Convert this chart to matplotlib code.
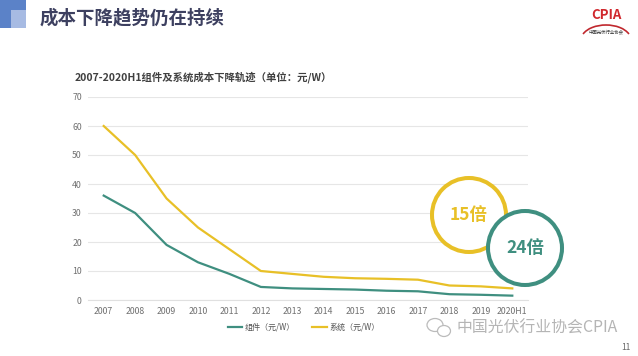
import matplotlib
matplotlib.use("Agg")
import matplotlib.pyplot as plt
from matplotlib.patches import Rectangle, Ellipse, Arc

plt.rcParams['font.family'] = ['Noto Sans CJK SC', 'DejaVu Sans']

years = ["2007", "2008", "2009", "2010", "2011", "2012", "2013", "2014",
         "2015", "2016", "2017", "2018", "2019", "2020H1"]
module_cost = [36, 30, 19, 13, 9, 4.5, 4.0, 3.8, 3.6, 3.2, 3.0, 2.0, 1.8, 1.5]
system_cost = [60, 50, 35, 25, 17.5, 10, 9, 8, 7.5, 7.3, 7.0, 5.0, 4.7, 4.0]
yticks = [0, 10, 20, 30, 40, 50, 60, 70]
series_names = ["组件（元/W）", "系统（元/W）"]
ratio_labels = ["15倍", "24倍"]

W, H = 638, 356
GREEN = "#3f8f80"
GOLD = "#e8c027"

fig = plt.figure(figsize=(W / 100, H / 100), dpi=100)
fig.patch.set_facecolor("white")

def fx(x):
    return x / W

def fy(y):
    return 1 - y / H

# decorative squares
fig.add_artist(Rectangle((fx(0), fy(28)), fx(26), 28 / H, transform=fig.transFigure,
                         facecolor="#5b82c8", edgecolor="none"))
fig.add_artist(Rectangle((fx(11), fy(28)), fx(15), 18 / H, transform=fig.transFigure,
                         facecolor="#a7bbe3", edgecolor="none"))

# page title
fig.text(fx(40), fy(18), "成本下降趋势仍在持续", fontsize=13.3, fontweight="bold",
         color="#3d4060", va="center", ha="left")

# logo
fig.text(fx(606), fy(15), "CPIA", fontsize=9.5, fontweight="bold", color="#d0282e",
         ha="center", va="center")
fig.add_artist(Arc((fx(606), fy(40)), 50 / W, 30 / H, theta1=25, theta2=155,
                   transform=fig.transFigure, color="#c0282e", lw=1.2))
fig.text(fx(606), fy(32), "中国光伏行业协会", fontsize=3.2, color="#333333",
         ha="center", va="center")

# chart axes
ax = fig.add_axes([fx(88), fy(300), 440 / W, 203 / H])
x = list(range(len(years)))
ax.plot(x, module_cost, color=GREEN, lw=1.6, label=series_names[0])
ax.plot(x, system_cost, color=GOLD, lw=1.6, label=series_names[1])
ax.set_xlim(-0.5, len(years) - 0.5)
ax.set_ylim(0, 70)
ax.set_yticks(yticks)
ax.set_xticks(x)
ax.set_xticklabels(years)
ax.tick_params(axis="both", length=0, labelsize=6.3, colors="#707070")
ax.tick_params(axis="y", pad=4.5)
ax.tick_params(axis="x", pad=5)
ax.grid(axis="y", color="#e6e6e6", lw=0.8)
ax.set_axisbelow(True)
for s in ["top", "right", "left"]:
    ax.spines[s].set_visible(False)
ax.spines["bottom"].set_color("#e0e0e0")
ax.spines["bottom"].set_linewidth(0.8)

leg = ax.legend(loc="upper center", bbox_to_anchor=(0.49, -0.075), ncol=2, frameon=False,
                fontsize=5.8, handlelength=1.8, columnspacing=2.2, handletextpad=0.3)
for t in leg.get_texts():
    t.set_color("#555555")

# chart title
fig.text(fx(75), fy(77), "2007-2020H1组件及系统成本下降轨迹（单位：元/W）", fontsize=7.5,
         fontweight="bold", color="#404040", ha="left", va="center")

# circles
def circle(cx, cy, r, color, label, z):
    fig.add_artist(Ellipse((fx(cx), fy(cy)), 2 * r / W, 2 * r / H, transform=fig.transFigure,
                           facecolor="white", edgecolor=color, lw=2.9, zorder=z))
    fig.text(fx(cx), fy(cy), label, fontsize=12.5, fontweight="bold", color=color,
             ha="center", va="center", zorder=z + 0.5)

circle(469, 215, 37, GOLD, ratio_labels[0], 10)
circle(525, 248, 37, GREEN, ratio_labels[1], 12)

# watermark
fig.add_artist(Ellipse((fx(435), fy(325)), 16 / W, 13 / H, transform=fig.transFigure,
                       facecolor="none", edgecolor="#bbbbbb", lw=0.9))
fig.add_artist(Ellipse((fx(444), fy(331)), 13 / W, 11 / H, transform=fig.transFigure,
                       facecolor="white", edgecolor="#bbbbbb", lw=0.9))
fig.text(fx(457), fy(328), "中国光伏行业协会CPIA", fontsize=11.4, color="#b5b5b5",
         ha="left", va="center")

fig.text(fx(630), fy(347), "11", fontsize=6, color="#666666", ha="right", va="center")

fig.savefig("out.png", dpi=100, facecolor="white")
